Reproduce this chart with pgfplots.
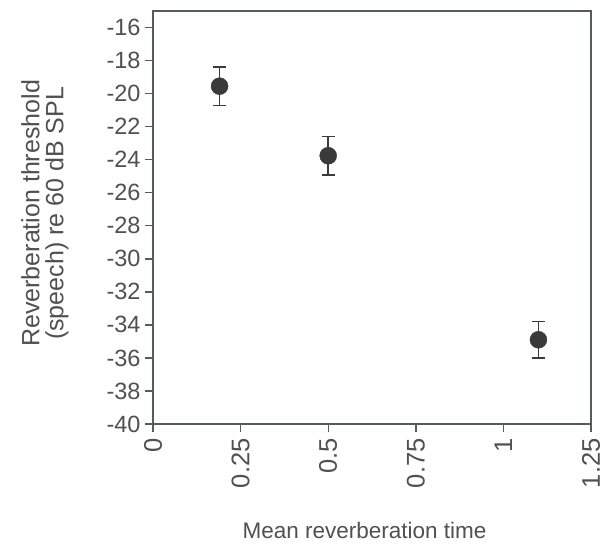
\documentclass[border=0pt]{standalone}
\usepackage{pgfplots}
\pgfplotsset{compat=1.18}
\usepackage{fontspec}
\setmainfont{Liberation Sans}
\usetikzlibrary{calc}
\definecolor{txt}{RGB}{80,80,80}
\definecolor{axc}{RGB}{85,92,92}
\definecolor{mk}{RGB}{58,58,58}
\begin{document}
\begin{tikzpicture}
\begin{axis}[
 scale only axis, width=438pt, height=413pt,
 xmin=0, xmax=1.25, ymin=-40, ymax=-15,
 axis line style={axc, line width=1.4pt},
 xtick={0,0.25,0.5,0.75,1,1.25},
 xticklabels={0,0.25,0.5,0.75,1,1.25},
 ytick={-40,-38,...,-16},
 yticklabels={-40,-38,-36,-34,-32,-30,-28,-26,-24,-22,-20,-18,-16},
 tick align=outside, xtick pos=bottom, ytick pos=left,
 major tick length=8pt,
 tick style={axc, line width=1.4pt},
 tick label style={font=\fontsize{23.5}{26}\selectfont, text=txt},
 y tick label style={xshift=-1pt},
 x tick label style={rotate=90, anchor=east, font=\fontsize{25.5}{28}\selectfont},
 xticklabel shift=3pt,
 xlabel={Mean reverberation time},
 ylabel={Reverberation threshold\\(speech) re 60 dB SPL},
 xlabel style={font=\fontsize{22.5}{26}\selectfont, text=txt, at={(axis description cs:0.483,-0.258)}, anchor=center},
 ylabel style={font=\fontsize{25}{24}\selectfont, text=txt, align=center, at={(axis description cs:-0.247,0.51)}, anchor=center},
]
\addplot[only marks, mark=*, mark size=8.5pt, mark options={fill=mk, draw=mk},
  error bars/.cd, y dir=both, y explicit,
  error bar style={mk, line width=1.5pt},
  error mark options={rotate=90, mark size=6.5pt, line width=1.5pt, mk}]
 coordinates {(0.19,-19.55) +- (0,1.17) (0.5,-23.76) +- (0,1.17) (1.10,-34.9) +- (0,1.1)};
\end{axis}
\pgfresetboundingbox
\path ($(current axis.south west)+(-153pt,-122pt)$) rectangle ($(current axis.north east)+(13pt,11pt)$);
\end{tikzpicture}
\end{document}
